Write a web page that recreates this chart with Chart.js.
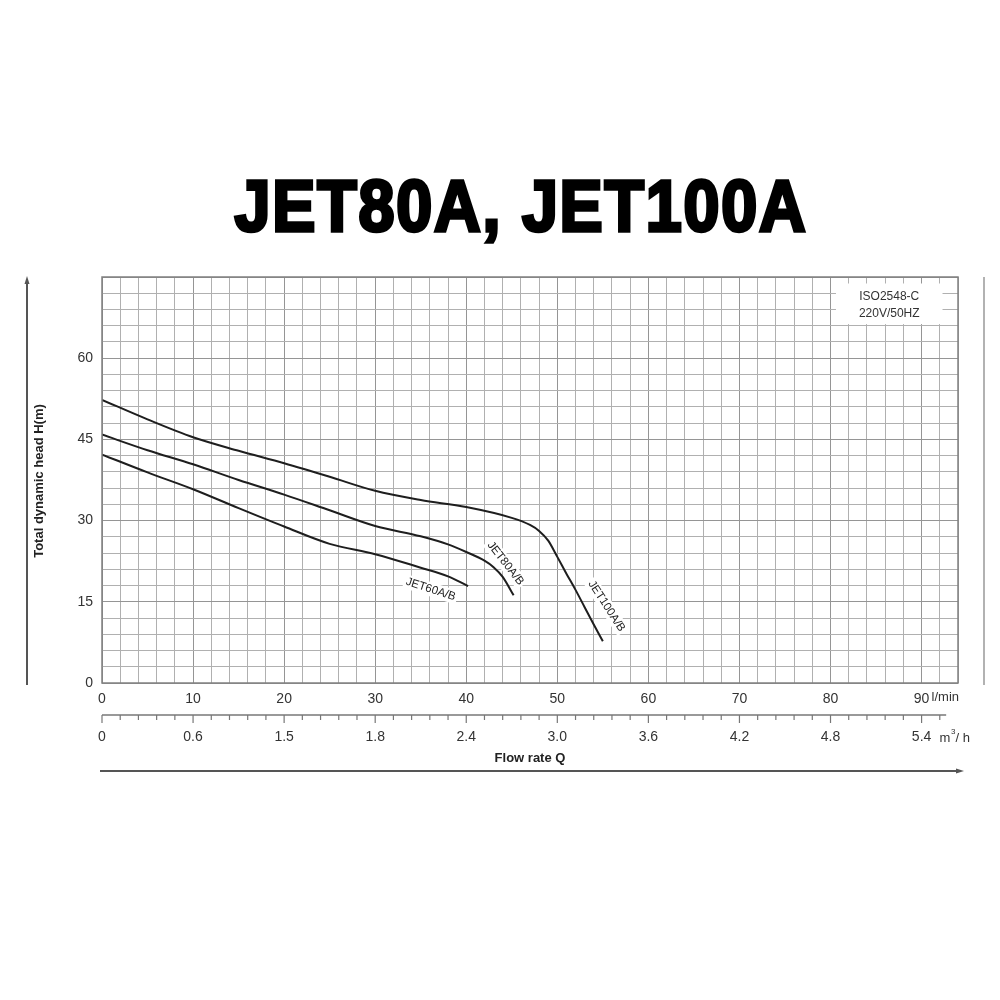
<!DOCTYPE html>
<html><head><meta charset="utf-8">
<script src="https://cdn.jsdelivr.net/npm/chart.js@4"></script>
<style>html,body{margin:0;padding:0;background:#fff;}</style>
</head><body>
<canvas id="c" width="1000" height="1000" style="width:1000px;height:1000px;display:block"></canvas>
<script>
// ---- data (flow in l/min, head in m) ----
const flow100 = [0, 5, 10, 15, 20, 25, 30, 35, 40, 45, 47, 48, 49, 50, 51, 52, 53, 54, 55];
const head100 = [52.3, 48.7, 45.4, 42.9, 40.6, 38.1, 35.5, 33.8, 32.5, 30.5, 29.2, 28.1, 26.3, 23.3, 20.2, 17.2, 14.0, 10.8, 7.7];
const flow80  = [0, 5, 10, 15, 20, 25, 30, 35, 38, 40, 42, 43, 44, 45.2];
const head80  = [45.9, 43.0, 40.4, 37.5, 34.8, 31.9, 29.0, 27.1, 25.6, 24.2, 22.6, 21.4, 19.6, 16.2];
const flow60  = [0, 5, 10, 15, 20, 25, 30, 35, 38, 40.2];
const head60  = [42.2, 38.9, 35.8, 32.3, 28.9, 25.7, 23.8, 21.3, 19.7, 17.9];
const seriesNames = ['JET100A/B', 'JET80A/B', 'JET60A/B'];
const yTickLabels = [0, 15, 30, 45, 60];
const xTickLabels = [0, 10, 20, 30, 40, 50, 60, 70, 80, 90];
const m3hLabels = ['0', '0.6', '1.5', '1.8', '2.4', '3.0', '3.6', '4.2', '4.8', '5.4'];
const titleText = 'JET80A, JET100A';
const noteLines = ['ISO2548-C', '220V/50HZ'];

const FONT = '"Liberation Sans", Arial, sans-serif';
const toXY = (xs, ys) => xs.map((x, i) => ({x: x, y: ys[i]}));

const lineStyle = {borderColor: '#1e1e1e', borderWidth: 2, pointRadius: 0, cubicInterpolationMode: 'monotone', fill: false};

const decor = {
  id: 'decor',
  afterDatasetsDraw(chart) {
    const ctx = chart.ctx, xs = chart.scales.x, ys = chart.scales.y, a = chart.chartArea;
    ctx.save();
    // plot border
    ctx.strokeStyle = '#808080'; ctx.lineWidth = 1.5;
    ctx.strokeRect(a.left, a.top, a.right - a.left, a.bottom - a.top);

    // curve labels
    const labs = [
      {t: seriesNames[2], x: 36.1, y: 17.3, ang: 18},
      {t: seriesNames[1], x: 44.3, y: 22.1, ang: 52},
      {t: seriesNames[0], x: 55.4, y: 14.2, ang: 57}
    ];
    ctx.font = '11.5px ' + FONT;
    labs.forEach(l => {
      const px = xs.getPixelForValue(l.x), py = ys.getPixelForValue(l.y);
      ctx.save();
      ctx.translate(px, py); ctx.rotate(l.ang * Math.PI / 180);
      const w = ctx.measureText(l.t).width;
      ctx.fillStyle = '#fff'; ctx.fillRect(-w / 2 - 2, -7, w + 4, 14);
      ctx.fillStyle = '#222'; ctx.textAlign = 'center'; ctx.textBaseline = 'middle';
      ctx.fillText(l.t, 0, 0);
      ctx.restore();
    });

    // note box
    const bx1 = xs.getPixelForValue(80.6), bx2 = xs.getPixelForValue(92.3);
    const by1 = ys.getPixelForValue(73.8), by2 = ys.getPixelForValue(66.3);
    ctx.fillStyle = '#fff'; ctx.fillRect(bx1, by1, bx2 - bx1, by2 - by1);
    ctx.fillStyle = '#333'; ctx.font = '12px ' + FONT; ctx.textAlign = 'center'; ctx.textBaseline = 'middle';
    ctx.fillText(noteLines[0], (bx1 + bx2) / 2, by1 + 13);
    ctx.fillText(noteLines[1], (bx1 + bx2) / 2, by1 + 30);
    ctx.restore();
  },
  afterDraw(chart) {
    const ctx = chart.ctx, xs = chart.scales.x, a = chart.chartArea;
    ctx.save();
    // title
    ctx.font = 'bold 72px "Liberation Sans", Arial, sans-serif';
    try { ctx.letterSpacing = '2px'; } catch (e) {}
    const tw = ctx.measureText(titleText).width;
    ctx.translate(521, 231); ctx.scale(573 / tw, 1);
    ctx.fillStyle = '#000'; ctx.strokeStyle = '#000'; ctx.lineWidth = 3.5; ctx.lineJoin = 'miter';
    ctx.textAlign = 'center'; ctx.textBaseline = 'alphabetic';
    ctx.fillText(titleText, 0, 0);
    ctx.strokeText(titleText, 0, 0);
    ctx.restore();

    ctx.save();
    // unit of l/min
    ctx.fillStyle = '#333'; ctx.font = '13px ' + FONT; ctx.textBaseline = 'middle'; ctx.textAlign = 'left';
    ctx.fillText('l/min', xs.getPixelForValue(90) + 10, 697);

    // second (m3/h) axis
    const ay = 715;
    ctx.strokeStyle = '#777'; ctx.lineWidth = 1.5;
    ctx.beginPath(); ctx.moveTo(xs.getPixelForValue(0), ay); ctx.lineTo(xs.getPixelForValue(92.7), ay); ctx.stroke();
    ctx.lineWidth = 1.2;
    for (let v = 0; v <= 92; v += 2) {
      const px = xs.getPixelForValue(v);
      const len = (v % 10 === 0) ? 8 : 5;
      ctx.beginPath(); ctx.moveTo(px, ay); ctx.lineTo(px, ay + len); ctx.stroke();
    }
    ctx.font = '14px ' + FONT; ctx.textAlign = 'center'; ctx.fillStyle = '#333';
    m3hLabels.forEach((t, i) => ctx.fillText(t, xs.getPixelForValue(i * 10), 737));
    ctx.textAlign = 'left'; ctx.font = '13px ' + FONT;
    const ux = xs.getPixelForValue(90) + 18;
    ctx.fillText('m', ux, 738);
    const mw = ctx.measureText('m').width;
    ctx.font = '8px ' + FONT; ctx.fillText('3', ux + mw + 0.5, 732);
    ctx.font = '13px ' + FONT; ctx.fillText('/ h', ux + mw + 5, 738);

    // axis titles
    ctx.font = 'bold 13px ' + FONT; ctx.fillStyle = '#222'; ctx.textAlign = 'center';
    ctx.fillText('Flow rate Q', 530, 758);
    ctx.save(); ctx.translate(39, 481); ctx.rotate(-Math.PI / 2);
    ctx.fillText('Total dynamic head H(m)', 0, 0); ctx.restore();

    // arrows
    ctx.strokeStyle = '#555'; ctx.fillStyle = '#555'; ctx.lineWidth = 2;
    ctx.beginPath(); ctx.moveTo(27, 685); ctx.lineTo(27, 282); ctx.stroke();
    ctx.beginPath(); ctx.moveTo(27, 276); ctx.lineTo(24.5, 284); ctx.lineTo(29.5, 284); ctx.closePath(); ctx.fill();
    ctx.beginPath(); ctx.moveTo(100, 771); ctx.lineTo(958, 771); ctx.stroke();
    ctx.beginPath(); ctx.moveTo(964, 771); ctx.lineTo(956, 768.5); ctx.lineTo(956, 773.5); ctx.closePath(); ctx.fill();
    // right side rule
    ctx.strokeStyle = '#999'; ctx.lineWidth = 1.5;
    ctx.beginPath(); ctx.moveTo(984, a.top); ctx.lineTo(984, a.bottom + 2); ctx.stroke();
    ctx.restore();
  }
};

new Chart(document.getElementById('c'), {
  type: 'line',
  data: {
    datasets: [
      Object.assign({label: seriesNames[0], data: toXY(flow100, head100)}, lineStyle),
      Object.assign({label: seriesNames[1], data: toXY(flow80, head80)}, lineStyle),
      Object.assign({label: seriesNames[2], data: toXY(flow60, head60)}, lineStyle)
    ]
  },
  options: {
    responsive: false, animation: false, devicePixelRatio: 1,
    layout: {padding: {left: 0, top: 277, right: 42, bottom: 0}},
    plugins: {legend: {display: false}, tooltip: {enabled: false}},
    scales: {
      x: {
        type: 'linear', min: 0, max: 94,
        afterFit: s => { s.height = 317; },
        afterBuildTicks: s => { s.ticks = []; for (let v = 0; v <= 94; v += 2) s.ticks.push({value: v}); },
        grid: {color: c => (c.tick && c.tick.value % 10 === 0) ? '#959595' : '#b0b0b0', lineWidth: 1, drawTicks: false},
        border: {display: false},
        ticks: {autoSkip: false, maxRotation: 0, padding: 8, color: '#333', font: {family: FONT, size: 14},
          callback: v => xTickLabels.includes(v) ? String(v) : ''}
      },
      y: {
        type: 'linear', min: 0, max: 75,
        afterFit: s => { s.width = 102; },
        afterBuildTicks: s => { s.ticks = []; for (let v = 0; v <= 75; v += 3) s.ticks.push({value: v}); },
        grid: {color: c => (c.tick && c.tick.value % 15 === 0) ? '#959595' : '#b0b0b0', lineWidth: 1, drawTicks: false},
        border: {display: false},
        ticks: {autoSkip: false, padding: 9, color: '#333', font: {family: FONT, size: 14},
          callback: v => yTickLabels.includes(v) ? String(v) : ''}
      }
    }
  },
  plugins: [decor]
});
</script>
</body></html>
